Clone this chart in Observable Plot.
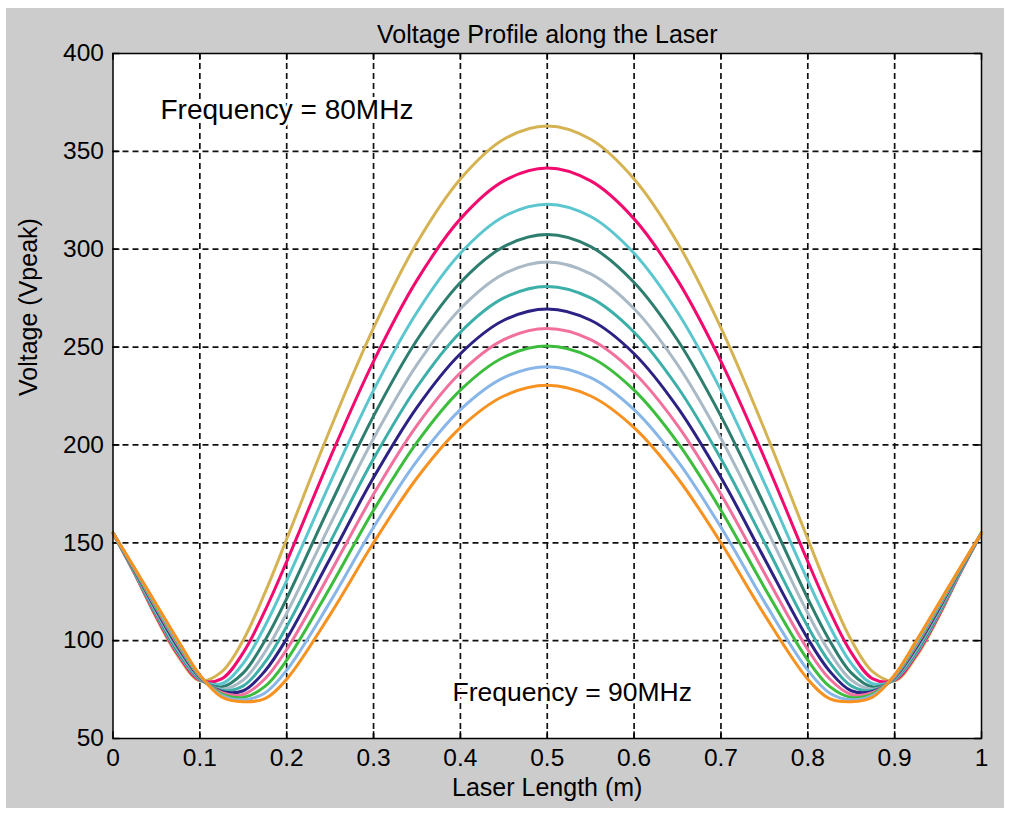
<!DOCTYPE html>
<html><head><meta charset="utf-8">
<script src="https://cdn.jsdelivr.net/npm/d3@7"></script>
<script src="https://cdn.jsdelivr.net/npm/@observablehq/plot@0.6"></script>
<style>
html,body{margin:0;padding:0;background:#ffffff;}
#fig{position:absolute;left:6px;top:8px;width:998px;height:800px;background:#cccccc;}
</style></head><body><div id="fig"></div>
<script>
const titleText = "Voltage Profile along the Laser";
const xLabel = "Laser Length (m)";
const yLabel = "Voltage (Vpeak)";
const xTicks = [0, 0.1, 0.2, 0.3, 0.4, 0.5, 0.6, 0.7, 0.8, 0.9, 1];
const yTicks = [50, 100, 150, 200, 250, 300, 350, 400];

const xs = [0, 0.025, 0.05, 0.075, 0.1, 0.125, 0.15, 0.175, 0.2, 0.25, 0.3, 0.35, 0.4, 0.45, 0.5, 0.55, 0.6, 0.65, 0.7, 0.75, 0.8, 0.825, 0.85, 0.875, 0.9, 0.925, 0.95, 0.975, 1];

const gold   = [155,134,111.5,92,79.5,84,100.3,124.5,151.9,208,259.8,303.3,335.9,356.2,363,356.2,335.9,303.3,259.8,208,151.9,124.5,100.3,84,79.5,92,111.5,134,155];
const pink   = [155,134.3,112.2,92.8,79.8,80.5,93.9,115.3,140.4,193.4,242.7,284.2,315.5,334.9,341.5,334.9,315.5,284.2,242.7,193.4,140.4,115.3,93.9,80.5,79.8,92.8,112.2,134.3,155];
const cyan   = [155,134.6,112.9,93.6,80.1,78,88.4,107.5,130.7,180.6,227.9,267.8,297.9,316.7,323,316.7,297.9,267.8,227.9,180.6,130.7,107.5,88.4,78,80.1,93.6,112.9,134.6,155];
const dteal  = [155,134.9,113.6,94.4,80.4,76.3,83.5,100.1,121.5,169.2,214.7,253.6,283,301.3,307.5,301.3,283,253.6,214.7,169.2,121.5,100.1,83.5,76.3,80.4,94.4,113.6,134.9,155];
const grey   = [155,135.2,114.3,95.2,80.7,75.2,79.9,94.2,114,159.3,203.3,241,269.6,287.4,293.5,287.4,269.6,241,203.3,159.3,114,94.2,79.9,75.2,80.7,95.2,114.3,135.2,155];
const teal   = [155,135.5,115,96,81,74.6,76.9,89,107.2,150.3,192.9,229.6,257.6,275.1,281,275.1,257.6,229.6,192.9,150.3,107.2,89,76.9,74.6,81,96,115,135.5,155];
const navy   = [155,135.8,115.7,96.8,81.3,74.1,74.4,84.5,101,142,183.3,219.2,246.6,263.7,269.5,263.7,246.6,219.2,183.3,142,101,84.5,74.4,74.1,81.3,96.8,115.7,135.8,155];
const pink2  = [155,136.1,116.4,97.6,81.6,73.5,72.5,80.5,95.5,134.6,174.8,210,236.9,253.8,259.5,253.8,236.9,210,174.8,134.6,95.5,80.5,72.5,73.5,81.6,97.6,116.4,136.1,155];
const green  = [155,136.4,117.1,98.4,81.9,72.8,71,76.6,90,127.2,166.6,201.3,228,244.8,250.5,244.8,228,201.3,166.6,127.2,90,76.6,71,72.8,81.9,98.4,117.1,136.4,155];
const lblue  = [155,136.7,117.8,99.2,82.2,72,69.8,73.3,84.9,119.8,157.9,191.8,218,234.4,240,234.4,218,191.8,157.9,119.8,84.9,73.3,69.8,72,82.2,99.2,117.8,136.7,155];
const orange = [155,137,118.5,100,82.5,71.2,68.8,70.4,80.3,113.3,150,183.1,208.8,225,230.5,225,208.8,183.1,150,113.3,80.3,70.4,68.8,71.2,82.5,100,118.5,137,155];

const seriesNames  = ["s1","s2","s3","s4","s5","s6","s7","s8","s9","s10","s11"];
const seriesValues = [gold, pink, cyan, dteal, grey, teal, navy, pink2, green, lblue, orange];
const seriesColors = ["#d6b352","#f20a6e","#5cc6cf","#2e7e6f","#a9b9c5","#3cafa8","#2b2283","#f2709e","#3dbd3d","#88b6e8","#f7911f"];

const annotText = ["Frequency = 80MHz", "Frequency = 90MHz"];
const annotX = [0.0547, 0.391];
const annotY = [371, 73.6];
const annotSize = [28, 26.5];

const rows = [];
seriesValues.forEach((vals, i) => vals.forEach((v, j) => rows.push({x: xs[j], v: v, s: seriesNames[i]})));

const font = "'Liberation Sans', Arial, Helvetica, sans-serif";

const chart = Plot.plot({
  width: 998, height: 800,
  marginLeft: 106.5, marginRight: 23, marginTop: 45, marginBottom: 70,
  style: {background: "transparent", fontFamily: font, fontSize: "24.5px", color: "#000", overflow: "visible"},
  x: {domain: [0, 1], ticks: xTicks, tickFormat: d => String(d), tickSize: 0, tickPadding: 10, label: null},
  y: {domain: [50, 400], ticks: yTicks, tickFormat: d => String(d), tickSize: 0, tickPadding: 9, label: null},
  color: {domain: seriesNames, range: seriesColors},
  marks: [
    Plot.frame({fill: "white", stroke: null}),
    Plot.ruleX(xTicks.slice(1, -1), {x: d => d, stroke: "#111", strokeWidth: 1.7, strokeDasharray: "6,4"}),
    Plot.ruleY(yTicks.slice(1, -1), {y: d => d, stroke: "#111", strokeWidth: 1.7, strokeDasharray: "6,4"}),
    Plot.ruleX(xTicks, {x: d => d, y1: () => 50, y2: () => 53.5, stroke: "#000", strokeWidth: 1.5}),
    Plot.ruleX(xTicks, {x: d => d, y1: () => 396.5, y2: () => 400, stroke: "#000", strokeWidth: 1.5}),
    Plot.ruleY(yTicks, {y: d => d, x1: () => 0, x2: () => 0.008, stroke: "#000", strokeWidth: 1.5}),
    Plot.ruleY(yTicks, {y: d => d, x1: () => 0.992, x2: () => 1, stroke: "#000", strokeWidth: 1.5}),
    Plot.line(rows, {x: "x", y: "v", z: "s", stroke: "s", strokeWidth: 3, curve: "catmull-rom"}),
    Plot.frame({stroke: "#000", strokeWidth: 1.5}),
    Plot.text(annotText, {x: annotX, y: annotY, text: d => d, textAnchor: "start", fontSize: (d, i) => annotSize[i], fill: "#000", stroke: "white", strokeWidth: 6}),
    Plot.text([titleText], {frameAnchor: "top", dy: -28, fontSize: 25, fill: "#000"}),
    Plot.text([xLabel], {frameAnchor: "bottom", dy: 57, fontSize: 25, fill: "#000"}),
    Plot.text([yLabel], {frameAnchor: "left", dx: -84, rotate: -90, fontSize: 25, fill: "#000"})
  ]
});
document.getElementById("fig").appendChild(chart);
</script></body></html>
